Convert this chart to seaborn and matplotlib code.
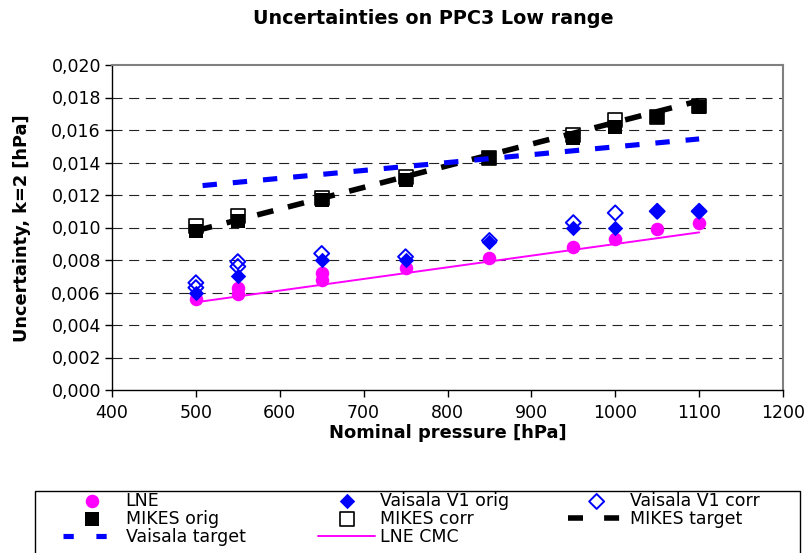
import matplotlib
matplotlib.use("Agg")
import matplotlib.pyplot as plt
import seaborn as sns
from matplotlib.ticker import FuncFormatter
from matplotlib.patches import Rectangle
from matplotlib.lines import Line2D

# ---------------- data ----------------
lne_p = [500, 550, 550, 650, 650, 750, 850, 950, 1000, 1050, 1100]
lne_u = [0.0056, 0.0063, 0.0059, 0.0072, 0.0068, 0.0075, 0.0081, 0.0088, 0.0093, 0.0099, 0.0103]

v1orig_p = [500, 550, 650, 750, 850, 950, 1000, 1050, 1100]
v1orig_u = [0.0060, 0.0070, 0.0080, 0.0080, 0.0091, 0.0100, 0.0100, 0.0110, 0.0110]

v1corr_p = [500, 500, 550, 550, 650, 750, 850, 950, 1000, 1050, 1100]
v1corr_u = [0.0066, 0.0063, 0.0079, 0.0076, 0.0084, 0.0082, 0.0092, 0.0103, 0.0109, 0.0110, 0.0110]

mikes_p = [500, 550, 650, 750, 850, 950, 1000, 1050, 1100]
mikes_orig_u = [0.0098, 0.0104, 0.0117, 0.0129, 0.0143, 0.0155, 0.0162, 0.0168, 0.0174]
mikes_corr_u = [0.0101, 0.0107, 0.0118, 0.0131, 0.0143, 0.0157, 0.0166, 0.0168, 0.0175]

mikes_target_p = [500, 1100]
mikes_target_u = [0.0098, 0.0178]

vaisala_target_p = [508, 1100]
vaisala_target_u = [0.01258, 0.01545]

lne_cmc_p = [500, 1100]
lne_cmc_u = [0.0054, 0.0097]

x_ticks = [400, 500, 600, 700, 800, 900, 1000, 1100, 1200]
y_ticks = [0.000, 0.002, 0.004, 0.006, 0.008, 0.010, 0.012, 0.014, 0.016, 0.018, 0.020]

# ---------------- figure ----------------
sns.set_theme(style="white")
plt.rcParams['font.family'] = ['DejaVu Sans']
plt.rcParams['text.color'] = 'black'

W, H = 810, 553
fig = plt.figure(figsize=(W / 100, H / 100), dpi=100)
L, R, T, B = 112, 783, 65, 390
ax = fig.add_axes([L / W, 1 - B / H, (R - L) / W, (B - T) / H])
ax.set_facecolor("white")

for yv in y_ticks[1:-1]:
    ax.axhline(yv, color="#222222", lw=0.8, dashes=(9, 6), zorder=0)

MAG = "#FF00FF"
BLUE = "#0000FF"

sns.scatterplot(x=lne_p, y=lne_u, ax=ax, marker="o", s=95, color=MAG,
                edgecolor=MAG, linewidth=0, zorder=3, label="LNE")
sns.scatterplot(x=v1corr_p, y=v1corr_u, ax=ax, marker="D", s=58, color=BLUE,
                facecolor="none", edgecolor=BLUE, linewidth=1.4, zorder=4,
                label="Vaisala V1 corr")
sns.scatterplot(x=v1orig_p, y=v1orig_u, ax=ax, marker="D", s=62, color=BLUE,
                edgecolor=BLUE, linewidth=0, zorder=5, label="Vaisala V1 orig")
sns.scatterplot(x=mikes_p, y=mikes_corr_u, ax=ax, marker="s", s=110, color="black",
                facecolor="white", edgecolor="black", linewidth=1.2, zorder=4,
                label="MIKES corr")
sns.scatterplot(x=mikes_p, y=mikes_orig_u, ax=ax, marker="s", s=110, color="black",
                edgecolor="black", linewidth=0, zorder=5, label="MIKES orig")
sns.lineplot(x=mikes_target_p, y=mikes_target_u, ax=ax, color="black", lw=4,
             dashes=False, zorder=6, label="MIKES target")
sns.lineplot(x=vaisala_target_p, y=vaisala_target_u, ax=ax, color=BLUE, lw=3.7,
             dashes=False, zorder=6, label="Vaisala target")
sns.lineplot(x=lne_cmc_p, y=lne_cmc_u, ax=ax, color=MAG, lw=1.4,
             dashes=False, zorder=7, label="LNE CMC")

for ln in ax.lines:
    lab = ln.get_label()
    if lab == "MIKES target":
        ln.set_dashes((3.0, 2.7))
    elif lab == "Vaisala target":
        ln.set_dashes((2.8, 3.1))
    if lab in ("MIKES target", "Vaisala target"):
        ln.set_dash_capstyle("butt")

ax.set_xlim(400, 1200)
ax.set_ylim(0, 0.020)
ax.set_xticks(x_ticks)
ax.set_yticks(y_ticks)
ax.yaxis.set_major_formatter(FuncFormatter(lambda v, p: f"{v:.3f}".replace(".", ",")))
ax.tick_params(axis="both", direction="out", length=5, width=1, color="black",
               labelsize=12.5, labelcolor="black", left=True, bottom=True)
ax.tick_params(axis="y", pad=3)
ax.tick_params(axis="x", pad=5)

for s in ("left", "bottom"):
    ax.spines[s].set_color("black")
    ax.spines[s].set_linewidth(1.0)
for s in ("top", "right"):
    ax.spines[s].set_color("#808080")
    ax.spines[s].set_linewidth(1.5)

ax.set_xlabel("")
ax.set_ylabel("")
fig.text(433 / W, 1 - 18 / H, "Uncertainties on PPC3 Low range", ha="center",
         va="center", fontsize=13.8, fontweight="bold", color="black")
fig.text(448 / W, 1 - 433 / H, "Nominal pressure [hPa]", ha="center",
         va="center", fontsize=12.9, fontweight="bold", color="black")
fig.text(22 / W, 1 - 228 / H, "Uncertainty, k=2 [hPa]", ha="center",
         va="center", rotation=90, fontsize=12.8, fontweight="bold", color="black")

# legend box (bottom edge runs off the figure, as in the reference)
box_l, box_r, box_t = 35, 800, 491
fig.patches.append(Rectangle((box_l / W, 1 - 600 / H), (box_r - box_l) / W,
                             (600 - box_t) / H, transform=fig.transFigure,
                             facecolor="white", edgecolor="black", lw=1.0,
                             zorder=1))

handles, labels = ax.get_legend_handles_labels()
hd = dict(zip(labels, handles))
ax.legend().remove()
# legend samples of the dashed lines use a shorter dash, as in the reference
hd["MIKES target"] = Line2D([], [], color="black", lw=4, dashes=(2.7, 3.8),
                            dash_capstyle="butt")
hd["Vaisala target"] = Line2D([], [], color=BLUE, lw=3.7, dashes=(2.0, 4.4),
                              dash_capstyle="butt")
columns = [
    (63, ["LNE", "MIKES orig", "Vaisala target"]),
    (318, ["Vaisala V1 orig", "MIKES corr", "LNE CMC"]),
    (568, ["Vaisala V1 corr", "MIKES target"]),
]
for x0, labs in columns:
    lg = fig.legend([hd[k] for k in labs], labs, loc="upper left",
                    bbox_to_anchor=(x0 / W, 1 - 492 / H), frameon=False,
                    fontsize=12.5, borderpad=0, borderaxespad=0,
                    labelspacing=0.0, handlelength=3.3, handletextpad=0.3)
    lg.set_zorder(5)

fig.savefig("out.png", dpi=100, facecolor="white")
